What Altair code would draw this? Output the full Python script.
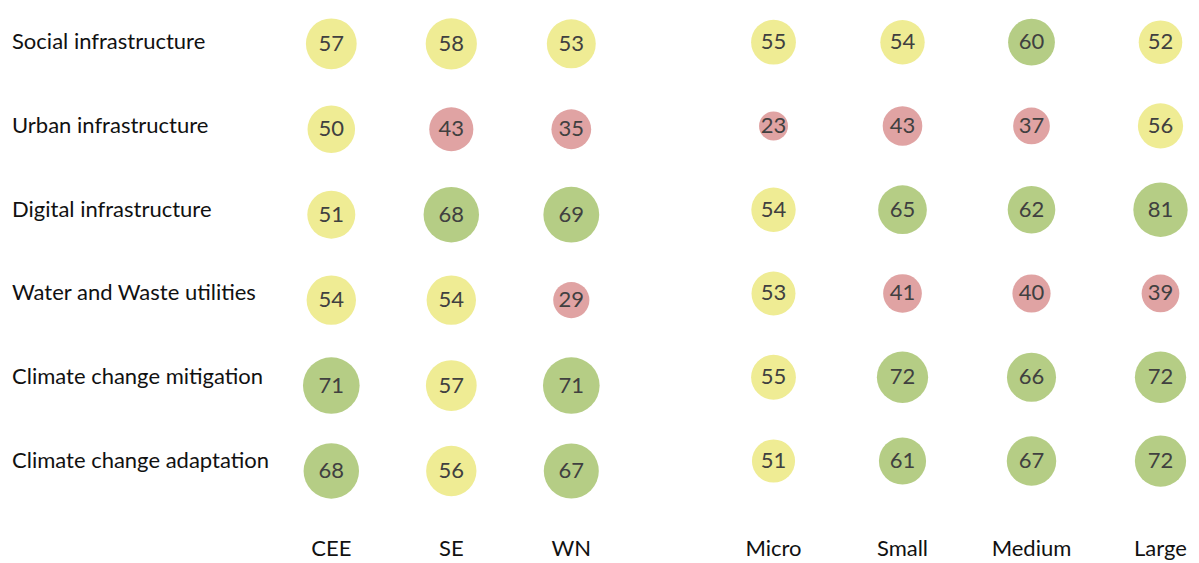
import altair as alt
import pandas as pd

categories = [
    "Social infrastructure",
    "Urban infrastructure",
    "Digital infrastructure",
    "Water and Waste utilities",
    "Climate change mitigation",
    "Climate change adaptation",
]
regions = ["CEE", "SE", "WN"]
firm_sizes = ["Micro", "Small", "Medium", "Large"]

cee = [57, 50, 51, 54, 71, 68]
se = [58, 43, 68, 54, 57, 56]
wn = [53, 35, 69, 29, 71, 67]
micro = [55, 23, 54, 53, 55, 51]
small = [54, 43, 65, 41, 72, 61]
medium = [60, 37, 62, 40, 66, 67]
large = [52, 56, 81, 39, 72, 72]

RED = "#E0A3A3"
YELLOW = "#EFEC94"
GREEN = "#B5CD85"
FONT = "Lato"
FS = 22


def long_table(cols, series):
    rows = []
    for col, vals in zip(cols, series):
        for cat, v in zip(categories, vals):
            rows.append({"cat": cat, "col": col, "v": v})
    return pd.DataFrame(rows)


left_df = long_table(regions, [cee, se, wn])
right_df = long_table(firm_sizes, [micro, small, medium, large])

color = alt.Color(
    "v:Q",
    scale=alt.Scale(type="threshold", domain=[45, 60], range=[RED, YELLOW, GREEN]),
    legend=None,
)


def group(df, cols, xrange, yrange, srange, with_rows=False):
    x = alt.X("col:N", scale=alt.Scale(type="point", domain=cols, range=xrange, padding=0.5), axis=None)
    y = alt.Y("cat:N", scale=alt.Scale(type="point", domain=categories, range=yrange, padding=0.5), axis=None)
    circles = alt.Chart(df).mark_circle(opacity=1).encode(
        x=x,
        y=y,
        size=alt.Size("v:Q", scale=alt.Scale(domain=[0, 100], range=[0, srange]), legend=None),
        color=color,
    )
    values = alt.Chart(df).mark_text(font=FONT, fontSize=FS, color="#404040").encode(
        x=x, y=y, text="v:Q"
    )
    col_labels = alt.Chart(pd.DataFrame({"col": cols})).mark_text(
        font=FONT, fontSize=FS, color="#111111", baseline="alphabetic"
    ).encode(x=x, y=alt.value(548), text="col:N")
    layers = [circles, values, col_labels]
    if with_rows:
        row_labels = alt.Chart(pd.DataFrame({"cat": categories})).mark_text(
            font=FONT, fontSize=FS, color="#111111", align="left"
        ).encode(x=alt.value(4), y=y, text="cat:N")
        layers.append(row_labels)
    return alt.layer(*layers)


left = group(left_df, regions, [263.3, 623.3], [-6.9, 505.7], 4520)
right = group(right_df, firm_sizes, [701, 1217], [-7.7, 494.9], 3650, with_rows=True)

chart = (
    alt.layer(left, right)
    .resolve_scale(x="independent", y="independent", size="independent")
    .properties(width=1183, height=555, autosize=alt.AutoSizeParams(type="none"), padding=0)
    .configure_view(stroke=None)
)

chart.save("out.html", embed_options={"renderer": "svg", "actions": False})
